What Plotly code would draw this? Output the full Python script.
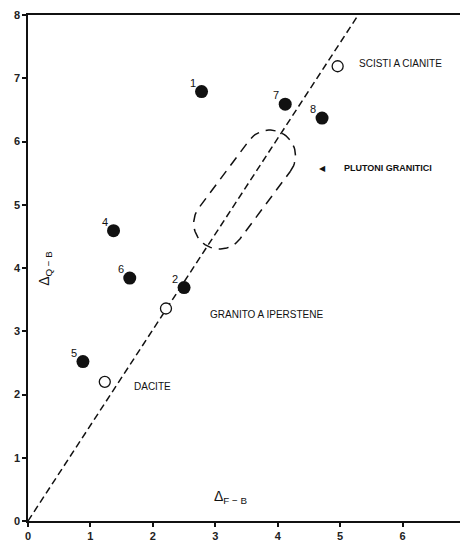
import numpy as np
import plotly.graph_objects as go

# ---- data ----
filled_labels = ["1", "2", "4", "5", "6", "7", "8"]
filled_x = [2.78, 2.50, 1.37, 0.88, 1.63, 4.12, 4.71]
filled_y = [6.79, 3.69, 4.59, 2.52, 3.84, 6.59, 6.37]

open_x = [4.96, 2.21, 1.23]
open_y = [7.19, 3.36, 2.20]

trend_x = [0.0, 5.29]
trend_y = [0.0, 8.0]

# region outline ("plutoni granitici"): centre, axis angle (deg), half-length, half-width
region_center = (3.47, 5.24)
region_angle = 53.3
region_half_len = 1.08
region_radius = 0.41

area_labels = ["SCISTI A CIANITE", "GRANITO A IPERSTENE", "DACITE"]
area_x = [5.27, 2.88, 1.66]
area_y = [7.23, 3.26, 2.12]

x_ticks = [0, 1, 2, 3, 4, 5, 6, 7]
y_ticks = [0, 1, 2, 3, 4, 5, 6, 7, 8]

# ---- stadium outline ----
px_x, px_y = 62.4, 63.25  # approx pixels per unit, to keep shape round on screen
L = region_half_len * 62.8
R = region_radius * 62.8
straight = L - R
t1 = np.linspace(-np.pi / 2, np.pi / 2, 40)
t2 = np.linspace(np.pi / 2, 3 * np.pi / 2, 40)
u = np.concatenate([straight + R * np.cos(t1), -straight + R * np.cos(t2), [straight + R * np.cos(t1[0])]])
v = np.concatenate([R * np.sin(t1), R * np.sin(t2), [R * np.sin(t1[0])]])
a = np.radians(region_angle)
sx = u * np.cos(a) - v * np.sin(a)
sy = u * np.sin(a) + v * np.cos(a)
reg_x = region_center[0] + sx / px_x
reg_y = region_center[1] + sy / px_y

fig = go.Figure()

fig.add_trace(go.Scatter(x=trend_x, y=trend_y, mode="lines",
                         line=dict(color="#111", width=1.5, dash="7px,4px"),
                         hoverinfo="skip", showlegend=False))
fig.add_trace(go.Scatter(x=reg_x, y=reg_y, mode="lines",
                         line=dict(color="#111", width=1.5, dash="10px,7px"),
                         hoverinfo="skip", showlegend=False))
fig.add_trace(go.Scatter(x=filled_x, y=filled_y, mode="markers",
                         marker=dict(size=13, color="#111", line=dict(width=0)),
                         showlegend=False))
fig.add_trace(go.Scatter(x=open_x, y=open_y, mode="markers",
                         marker=dict(size=11, color="white", line=dict(width=1.3, color="#111")),
                         showlegend=False))

font_main = "Liberation Sans, Arial, sans-serif"

for lab, x, y in zip(filled_labels, filled_x, filled_y):
    fig.add_annotation(x=x, y=y, text=lab, showarrow=False, xshift=-9, yshift=9,
                       font=dict(size=11, color="#111", family=font_main))

for lab, x, y in zip(area_labels, area_x, area_y):
    fig.add_annotation(x=x, y=y, text=lab, showarrow=False, xanchor="left",
                       font=dict(size=10, color="#111", family=font_main))

fig.add_annotation(x=5.03, y=5.58, text="<b>PLUTONI GRANITICI</b>", showarrow=False,
                   xanchor="left", font=dict(size=9, color="#111", family=font_main))
fig.add_annotation(x=4.72, y=5.58, text="◀", showarrow=False,
                   font=dict(size=8, color="#111", family=font_main))

fig.add_annotation(x=2.95, y=0.38, text="Δ<sub>F − B</sub>", showarrow=False, xanchor="left",
                   font=dict(size=14, color="#111", family=font_main))
fig.add_annotation(x=0.27, y=4.0, text="Δ<sub>Q − B</sub>", showarrow=False, textangle=-90,
                   font=dict(size=14, color="#111", family=font_main))

axis_common = dict(showgrid=False, zeroline=False, showline=True, linecolor="#111",
                   linewidth=1.5, mirror=True, ticks="outside", ticklen=4, tickwidth=1.5,
                   tickcolor="#111", automargin=False,
                   tickfont=dict(size=11, color="#222", family="Liberation Sans, Arial, sans-serif"))

fig.update_xaxes(range=[0, 7], tickvals=x_ticks, ticktext=[f"<b>{t}</b>" for t in x_ticks], **axis_common)
fig.update_yaxes(range=[0, 8], tickvals=y_ticks, ticktext=[f"<b>{t}</b>" for t in y_ticks], **axis_common)

# the page body adds ~8px offset; size the figure so the plot area lands where the reference has it
fig.update_layout(width=460, height=534, margin=dict(l=20, r=3, t=7, b=21, autoexpand=False),
                  plot_bgcolor="white", paper_bgcolor="white")

fig.write_html("out.html")
